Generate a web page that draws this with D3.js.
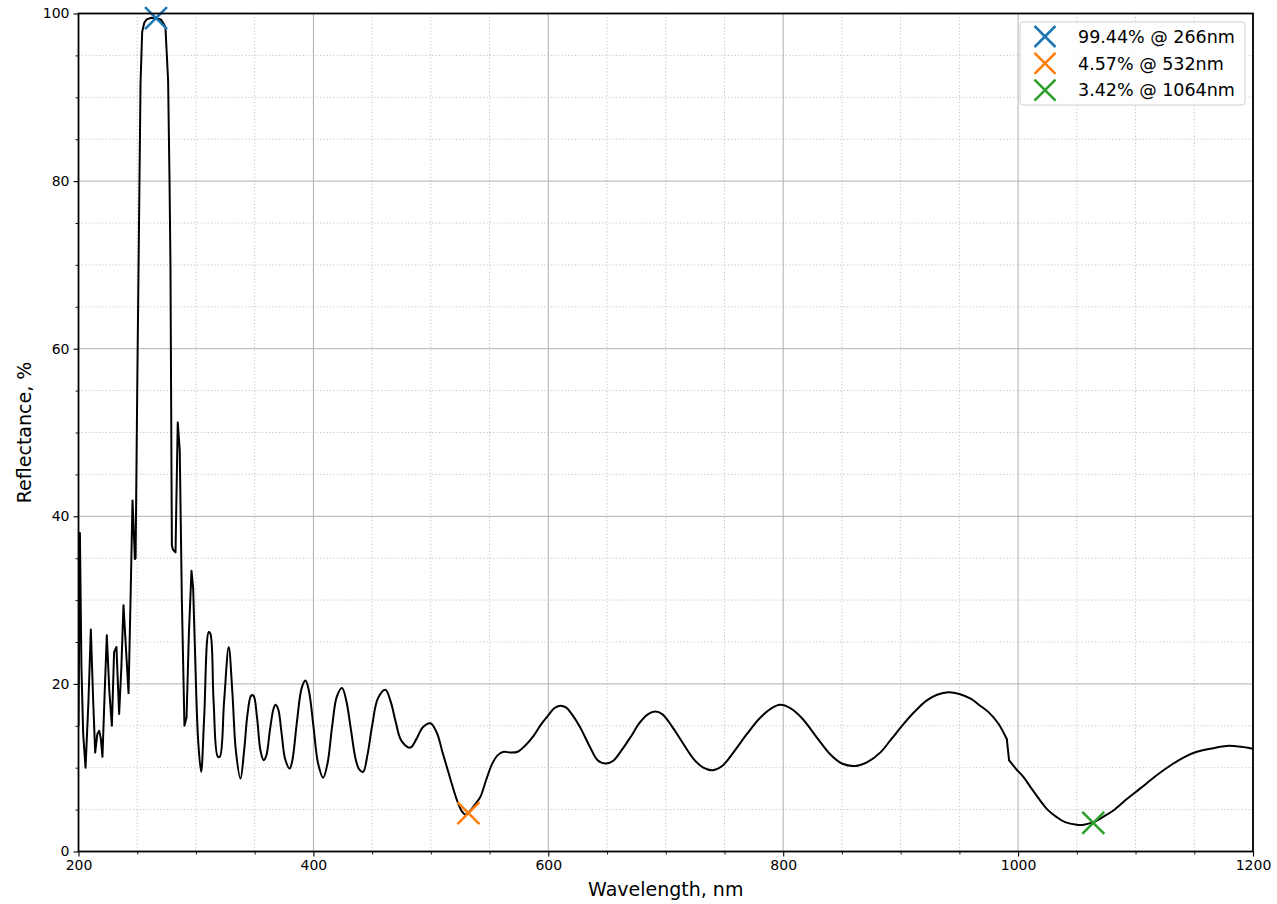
<!DOCTYPE html>
<html>
<head>
<meta charset="utf-8">
<script src="https://cdn.jsdelivr.net/npm/d3@7"></script>
<style>
  html, body { margin: 0; padding: 0; background: #fff; }
  svg { display: block; font-family: "DejaVu Sans", sans-serif; }
</style>
</head>
<body>
<svg id="chart" width="1277" height="904"></svg>
<script>
// ---- Data ----
const wavelengths = [
  200, 201.2, 202.5, 204, 206, 208.5, 210.5, 212.5, 214.2, 216, 217.6, 219, 220.4, 222.3, 224.1, 226.3, 228.4,
  230.3, 232.3, 234.6, 236.5, 238.3, 240.5, 242.6, 244.3, 246, 248, 248.6, 250, 251.3, 252.8, 254.2, 256, 258,
  262, 266, 270, 272, 274, 276.3, 277.5, 278.3, 279.5, 280.5, 282.6, 284.5, 286.2, 288, 290.2, 292, 294, 296.2,
  297.6, 300, 302, 304.4, 307, 310.9, 312.3, 315, 318.6, 320.3, 324, 327.9, 331, 334, 337.9, 341, 344, 347, 349,
  352, 355, 357.7, 360, 363, 366, 367.7, 370, 373, 376, 379.8, 382, 386, 390, 393.2, 396, 400, 404, 408.3, 412,
  416, 420, 424.4, 428, 432, 436, 439, 442.3, 446, 450, 455, 461.3, 466, 470, 475, 482.6, 488, 493, 499.6, 505,
  510, 513.8, 518, 522.3, 526, 529.4, 533, 537, 542.1, 547, 552, 557, 562, 568, 574, 580, 587.5, 594, 600.3,
  605, 610.2, 615, 620, 627.2, 635.7, 642, 648.5, 655, 662, 669.8, 678, 685, 691.1, 697, 705, 715.2, 724, 732,
  740.1, 748, 758, 769, 780, 789, 797.4, 806, 816, 828.7, 840, 850, 861.3, 872, 882.6, 892, 902.4, 912, 922, 931,
  940.7, 950, 960, 967.7, 975, 983, 990.4, 992.3, 998, 1004.5, 1011, 1018.7, 1025, 1032.9, 1040, 1049.9, 1056,
  1064.1, 1072, 1081.1, 1092, 1103.8, 1118, 1132.2, 1142, 1152.1, 1165, 1177.6, 1190, 1198.9, 1200
];
const reflectance = [
  15, 38, 22, 14, 10, 18, 26.5, 18, 11.8, 14.0, 14.4, 13.5, 11.3, 19, 25.8, 19, 15.0,
  23.8, 24.4, 16.4, 22, 29.4, 24, 18.9, 30, 41.9, 34.9, 35, 55, 72, 91.6, 97.8, 98.9, 99.3,
  99.5, 99.44, 99.3, 98.9, 98.4, 92, 80, 70, 36.5, 36.0, 35.7, 51.2, 47.9, 30, 15.0, 16.0, 26, 33.5,
  31.5, 20, 13, 9.5, 16, 26.2, 26.0, 18, 11.3, 11.3, 18, 24.4, 19, 12, 8.7, 12, 16.5, 18.6, 18.6,
  16, 12, 10.9, 11.5, 14.5, 17, 17.5, 17, 14, 11, 9.9, 10.8, 15.5, 19.5, 20.4, 19.3, 15, 10.5, 8.8, 10.5,
  15, 18.5, 19.5, 18, 14.5, 11, 9.8, 9.5, 11.5, 15, 18.3, 19.3, 17.8, 15.5, 13.2, 12.4, 13.5, 14.8, 15.3, 14.2,
  11.8, 10.0, 8, 6.1, 4.9, 4.4, 4.8, 5.5, 6.5, 8.5, 10.4, 11.5, 11.9, 11.8, 11.9, 12.6, 13.8, 15.2, 16.3,
  17.1, 17.4, 17.2, 16.4, 14.8, 12.4, 10.9, 10.5, 10.8, 12.0, 13.6, 15.4, 16.4, 16.7, 16.4, 15.0, 12.8, 11.0, 10.0,
  9.7, 10.2, 11.9, 14.0, 15.9, 17.0, 17.5, 17.1, 15.9, 13.6, 11.6, 10.5, 10.2, 10.7, 11.8, 13.4, 15.2, 16.7, 18.0, 18.7,
  19.0, 18.8, 18.2, 17.4, 16.6, 15.3, 13.4, 10.9, 9.9, 8.9, 7.6, 6.1, 5.0, 4.1, 3.5, 3.2, 3.2,
  3.5, 4.1, 4.9, 6.2, 7.5, 9.1, 10.5, 11.3, 11.9, 12.3, 12.6, 12.5, 12.3, 12.3
];

const markerWavelengths = [266, 532, 1064];
const markerValues = [99.44, 4.57, 3.42];
const markerLabels = ["99.44% @ 266nm", "4.57% @ 532nm", "3.42% @ 1064nm"];
const markerColors = ["#1f77b4", "#ff7f0e", "#2ca02c"];

const xMajorTicks = [200, 400, 600, 800, 1000, 1200];
const yMajorTicks = [0, 20, 40, 60, 80, 100];
const xLabel = "Wavelength, nm";
const yLabel = "Reflectance, %";

// ---- Layout ----
const svg = d3.select("#chart");
const L = 78.5, R = 1253, T = 13.5, B = 851.5;

const x = d3.scaleLinear().domain([200, 1200]).range([L, R]);
const y = d3.scaleLinear().domain([0, 100]).range([B, T]);

const xMinor = d3.range(200, 1200.1, 50).filter(v => !xMajorTicks.includes(v));
const yMinor = d3.range(0, 100.1, 5).filter(v => !yMajorTicks.includes(v));

// grid
const grid = svg.append("g");
grid.selectAll(".xminor").data(xMinor).join("line")
  .attr("x1", d => x(d)).attr("x2", d => x(d)).attr("y1", T).attr("y2", B)
  .attr("stroke", "#c4c4c4").attr("stroke-width", 1).attr("stroke-dasharray", "1.2,2.2");
grid.selectAll(".yminor").data(yMinor).join("line")
  .attr("y1", d => y(d)).attr("y2", d => y(d)).attr("x1", L).attr("x2", R)
  .attr("stroke", "#c4c4c4").attr("stroke-width", 1).attr("stroke-dasharray", "1.2,2.2");
grid.selectAll(".xmajor").data(xMajorTicks).join("line")
  .attr("x1", d => x(d)).attr("x2", d => x(d)).attr("y1", T).attr("y2", B)
  .attr("stroke", "#b0b0b0").attr("stroke-width", 1);
grid.selectAll(".ymajor").data(yMajorTicks).join("line")
  .attr("y1", d => y(d)).attr("y2", d => y(d)).attr("x1", L).attr("x2", R)
  .attr("stroke", "#b0b0b0").attr("stroke-width", 1);

// clip
svg.append("clipPath").attr("id", "clip").append("rect")
  .attr("x", L).attr("y", T).attr("width", R - L).attr("height", B - T);

// data line: sharp (sparse-sampled) UV part drawn linear, smooth visible part as a spline
const pts = wavelengths.map((w, i) => [w, reflectance[i]]);
const seg = (a, b) => pts.filter(p => p[0] >= a && p[0] <= b);
const pieces = [
  [seg(200, 300), d3.curveLinear],
  [seg(300, 990.4), d3.curveCatmullRom.alpha(0.5)],
  [seg(990.4, 992.3), d3.curveLinear],
  [seg(992.3, 1200), d3.curveCatmullRom.alpha(0.5)]
];
const lineG = svg.append("g").attr("clip-path", "url(#clip)");
pieces.forEach(([data, curve]) => {
  lineG.append("path").datum(data)
    .attr("d", d3.line().x(d => x(d[0])).y(d => y(d[1])).curve(curve))
    .attr("fill", "none").attr("stroke", "#000").attr("stroke-width", 2)
    .attr("stroke-linejoin", "round").attr("stroke-linecap", "round");
});

// markers
const xPath = s => `M${-s},${-s}L${s},${s}M${-s},${s}L${s},${-s}`;
const mk = svg.append("g");
markerWavelengths.forEach((w, i) => {
  mk.append("path")
    .attr("transform", `translate(${x(w)},${y(markerValues[i])})`)
    .attr("d", xPath(11))
    .attr("stroke", markerColors[i]).attr("stroke-width", 2.6).attr("fill", "none");
});

// axes
const xAxis = d3.axisBottom(x).tickValues(xMajorTicks).tickSize(5).tickPadding(4).tickFormat(d3.format("d"));
const yAxis = d3.axisLeft(y).tickValues(yMajorTicks).tickSize(5).tickPadding(4).tickFormat(d3.format("d"));
const xa = svg.append("g").attr("transform", `translate(0,${B})`).call(xAxis);
const ya = svg.append("g").attr("transform", `translate(${L},0)`).call(yAxis);
[xa, ya].forEach(a => {
  a.select(".domain").remove();
  a.selectAll("text").attr("font-size", 14).attr("font-family", "DejaVu Sans").attr("fill", "#000");
  a.selectAll("line").attr("stroke", "#000").attr("stroke-width", 1.1);
});
// minor ticks
const xmt = d3.axisBottom(x).tickValues(xMinor).tickSize(3).tickFormat("");
const ymt = d3.axisLeft(y).tickValues(yMinor).tickSize(3).tickFormat("");
const xm = svg.append("g").attr("transform", `translate(0,${B})`).call(xmt);
const ym = svg.append("g").attr("transform", `translate(${L},0)`).call(ymt);
[xm, ym].forEach(a => { a.select(".domain").remove(); a.selectAll("line").attr("stroke", "#000").attr("stroke-width", 0.9); });

// frame
svg.append("rect").attr("x", L).attr("y", T).attr("width", R - L).attr("height", B - T)
  .attr("fill", "none").attr("stroke", "#000").attr("stroke-width", 1.8);

// axis labels
svg.append("text").attr("x", (L + R) / 2).attr("y", 896).attr("text-anchor", "middle")
  .attr("font-size", 19).attr("fill", "#000").text(xLabel);
svg.append("text").attr("transform", `translate(30.5,${(T + B) / 2}) rotate(-90)`)
  .attr("text-anchor", "middle").attr("font-size", 19).attr("fill", "#000").text(yLabel);

// legend
const lg = svg.append("g");
lg.append("rect").attr("x", 1020).attr("y", 22).attr("width", 225).attr("height", 83)
  .attr("rx", 3).attr("fill", "#fff").attr("fill-opacity", 0.85)
  .attr("stroke", "#d0d0d0").attr("stroke-width", 1);
markerLabels.forEach((lab, i) => {
  const cy = 36.5 + i * 26.8;
  lg.append("path").attr("transform", `translate(1045,${cy})`).attr("d", xPath(10.5))
    .attr("stroke", markerColors[i]).attr("stroke-width", 2.6).attr("fill", "none");
  lg.append("text").attr("x", 1078).attr("y", cy).attr("dy", "0.36em")
    .attr("font-size", 17.5).attr("fill", "#000").text(lab);
});
</script>
</body>
</html>
